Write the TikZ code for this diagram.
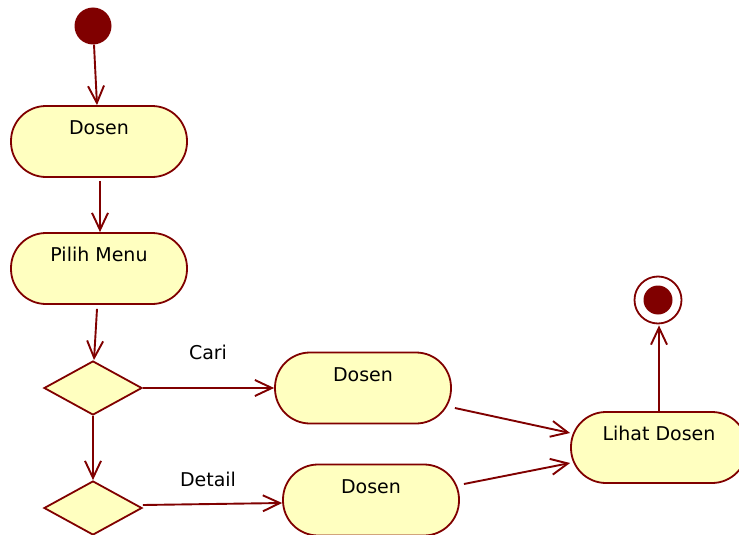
\documentclass[tikz,border=0pt]{standalone}
\usepackage{fontspec}
\setmainfont{DejaVu Sans}
\usetikzlibrary{arrows.meta,shapes.geometric}
\definecolor{umlred}{HTML}{800000}
\definecolor{umlfill}{HTML}{FFFFC0}
\begin{document}
\begin{tikzpicture}[x=1pt,y=-1pt,
  every node/.style={font=\fontsize{19}{23}\selectfont},
  action/.style={rectangle, draw=umlred, fill=umlfill, line width=1.8pt,
    rounded corners=35pt, minimum width=176pt, minimum height=71pt,
    inner sep=0pt, text height=14pt, text depth=28pt},
  decision/.style={diamond, draw=umlred, fill=umlfill, line width=1.8pt,
    minimum width=98pt, minimum height=54pt, inner sep=0pt},
  startnode/.style={circle, fill=umlred, minimum size=37pt, inner sep=0pt},
  endnode/.style={circle, draw=umlred, fill=white, line width=1.8pt,
    minimum size=47pt, inner sep=0pt,
    path picture={\fill[umlred] (path picture bounding box.center) circle (14.5pt);}},
  flow/.style={draw=umlred, line width=1.9pt,
    -{Straight Barb[length=17pt,width=16pt]}},
  guard/.style={text=black}
]
\useasboundingbox (0,0) rectangle (739,535);

% activity nodes
\node[startnode] (init) at (93,26) {};
\node[action] (dosenA) at (99,141.5) {Dosen};
\node[action] (pilih) at (99,268.5) {Pilih Menu};
\node[decision] (d1) at (93,388) {};
\node[decision] (d2) at (93,508) {};
\node[action] (dosenB) at (363,388) {Dosen};
\node[action] (dosenC) at (371,500) {Dosen};
\node[action] (lihat) at (659,447.5) {Lihat Dosen};
\node[endnode] (final) at (658,300) {};

% guard labels
\node[guard] (cari) at (208,352) {Cari};
\node[guard] (detail) at (208,479) {Detail};

% control flows
\draw[flow] ([xshift=1pt]init.south) -- ([xshift=-2pt]dosenA.north);
\draw[flow] ([shift={(1pt,-3pt)}]dosenA.south) -- ([xshift=1pt]pilih.north);
\draw[flow] ([shift={(-2pt,-4pt)}]pilih.south) -- ([xshift=1pt]d1.north);
\draw[flow] (d1.south) -- (d2.north);
\draw[flow] (d1.east) -- (dosenB.west);
\draw[flow] ([yshift=3pt]d2.east) -- ([yshift=-3pt]dosenC.west);
\draw[flow] ([shift={(3pt,-20pt)}]dosenB.east) -- ([yshift=14.5pt]lihat.west);
\draw[flow] ([shift={(4pt,16pt)}]dosenC.east) -- ([yshift=-15.5pt]lihat.west);
\draw[flow] (lihat.north) -- ([shift={(1pt,-1pt)}]final.south);
\end{tikzpicture}
\end{document}
